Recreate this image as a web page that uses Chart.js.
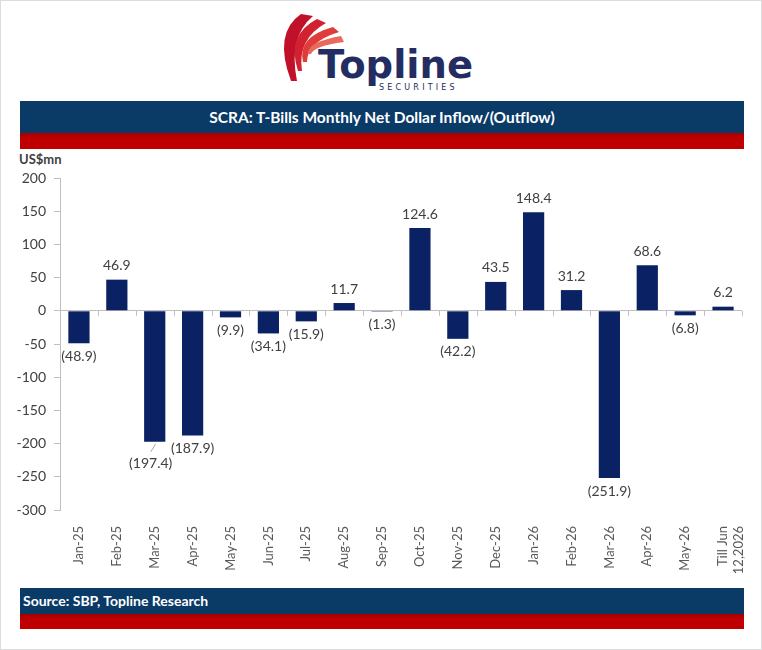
<!DOCTYPE html>
<html>
<head>
<meta charset="utf-8">
<script src="https://cdn.jsdelivr.net/npm/chart.js@4.4.1/dist/chart.umd.min.js"></script>
<style>
  html, body { margin:0; padding:0; background:#fff; }
  #page { position:relative; width:760px; height:648px; border:1px solid #dcdcdc; overflow:hidden; font-family:Lato, sans-serif; }
  .bar { position:absolute; left:19px; width:724px; }
  .navy { background:#0a3a66; color:#fff; font-weight:bold; }
  .red { background:linear-gradient(#a50000, #c00000 35%); }
  #title { top:100px; height:32px; line-height:32px; text-align:center; font-size:15.5px; }
  #titleRed { top:132px; height:16px; }
  #source { top:587px; height:26px; line-height:26px; padding-left:3px; font-size:14px; box-sizing:border-box; }
  #sourceRed { top:613px; height:15px; }
  #unit { position:absolute; left:18px; top:150px; font-size:13px; font-weight:bold; color:#404040; }
  #chartBox { position:absolute; left:0; top:150px; width:762px; height:440px; }
  #logoText { position:absolute; left:317px; top:41px; font-family:"DejaVu Sans", sans-serif; font-weight:bold; font-size:38.5px; line-height:46px; color:#232d62; }
  #logoSub { position:absolute; left:378px; top:82px; font-family:"DejaVu Sans", sans-serif; font-size:8px; letter-spacing:3.2px; color:#232d62; }
</style>
</head>
<body>
<div id="page">
  <svg width="762" height="100" style="position:absolute;left:0;top:0">
    <path d="M290 80 Q272 32 300 13 L312 15 Q287 36 296 80 Z" fill="#c0102a"/>
    <path d="M297 70 Q285 34 316 18 L325 22 Q296 38 301 70 Z" fill="#d3222f"/>
    <path d="M302 61 Q296 36 332 26 L338 31 Q306 41 306 61 Z" fill="#de3d3b"/>
    <path d="M307 53 Q306 41 340 35 L343 41 Q313 45 310 53 Z" fill="#e86a5c"/>
  </svg>
  <div id="logoText">Topline</div>
  <div id="logoSub">SECURITIES</div>

  <div id="title" class="bar navy">SCRA: T-Bills Monthly Net Dollar Inflow/(Outflow)</div>
  <div id="titleRed" class="bar red"></div>

  <div id="unit">US$mn</div>
  <div id="chartBox"><canvas id="chart"></canvas></div>

  <div id="source" class="bar navy">Source: SBP, Topline Research</div>
  <div id="sourceRed" class="bar red"></div>
</div>

<script>
const categories = ["Jan-25","Feb-25","Mar-25","Apr-25","May-25","Jun-25","Jul-25","Aug-25","Sep-25",
  "Oct-25","Nov-25","Dec-25","Jan-26","Feb-26","Mar-26","Apr-26","May-26",["Till Jun","12,2026"]];
const netFlow = [-48.9, 46.9, -197.4, -187.9, -9.9, -34.1, -15.9, 11.7, -1.3,
  124.6, -42.2, 43.5, 148.4, 31.2, -251.9, 68.6, -6.8, 6.2];
const yMin = -300;
const yMax = 200;
const yStep = 50;

const axisGray = "#bfbfbf";
const textGray = "#404040";

function fmt(v){
  return v < 0 ? "(" + Math.abs(v).toFixed(1) + ")" : v.toFixed(1);
}

// small ticks on the zero line between categories
const zeroTicks = {
  id: "zeroTicks",
  beforeDatasetsDraw(chart){
    const x = chart.scales.x, y = chart.scales.y;
    const ctx = chart.ctx;
    const y0 = y.getPixelForValue(0);
    const w = (x.right - x.left) / categories.length;
    ctx.save();
    ctx.strokeStyle = axisGray;
    ctx.lineWidth = 1;
    for(let i=1;i<=categories.length;i++){
      const px = Math.round(x.left + i*w) + 0.5;
      ctx.beginPath();
      ctx.moveTo(px, y0);
      ctx.lineTo(px, y0 + 5);
      ctx.stroke();
    }
    ctx.restore();
  }
};

// data labels, Mar-25 label pulled down with a leader line so it clears Apr-25
const valueLabels = {
  id: "valueLabels",
  afterDatasetsDraw(chart){
    const ctx = chart.ctx;
    const meta = chart.getDatasetMeta(0);
    ctx.save();
    ctx.font = "14px Lato";
    ctx.fillStyle = textGray;
    ctx.textAlign = "center";
    ctx.textBaseline = "middle";
    meta.data.forEach((bar, i) => {
      const v = netFlow[i];
      if(v < 0){
        if(i === 2){
          ctx.strokeStyle = "#a6a6a6";
          ctx.lineWidth = 1;
          ctx.beginPath();
          ctx.moveTo(bar.x + 1, bar.y + 2);
          ctx.lineTo(bar.x - 4, bar.y + 10);
          ctx.stroke();
          ctx.fillText(fmt(v), bar.x - 4, bar.y + 22);
        }else{
          ctx.fillText(fmt(v), bar.x, bar.y + 13);
        }
      }else{
        ctx.fillText(fmt(v), bar.x, bar.y - 14);
      }
    });
    ctx.restore();
  }
};

new Chart(document.getElementById("chart"), {
  type: "bar",
  data: {
    labels: categories,
    datasets: [{
      data: netFlow,
      backgroundColor: "#0a2163",
      barPercentage: 0.56,
      categoryPercentage: 1
    }]
  },
  options: {
    responsive: true,
    maintainAspectRatio: false,
    animation: false,
    layout: { padding: { top: 27, right: 21, left: 0, bottom: 0 } },
    plugins: { legend: { display: false }, tooltip: { enabled: false } },
    scales: {
      x: {
        afterFit(scale){ scale.height = 81; },
        grid: { display: false },
        border: { display: false },
        ticks: {
          color: "#595959",
          font: { family: "Lato", size: 13 },
          minRotation: 90,
          maxRotation: 90,
          padding: 8,
          autoSkip: false
        }
      },
      y: {
        min: yMin,
        max: yMax,
        afterFit(scale){ scale.width = 59; },
        border: { display: true, color: axisGray },
        grid: {
          color: c => c.tick && c.tick.value === 0 ? axisGray : "transparent",
          tickColor: axisGray,
          tickLength: 6
        },
        ticks: {
          stepSize: yStep,
          color: textGray,
          padding: 8,
          font: { family: "Lato", size: 14 }
        }
      }
    }
  },
  plugins: [zeroTicks, valueLabels]
});
</script>
</body>
</html>
